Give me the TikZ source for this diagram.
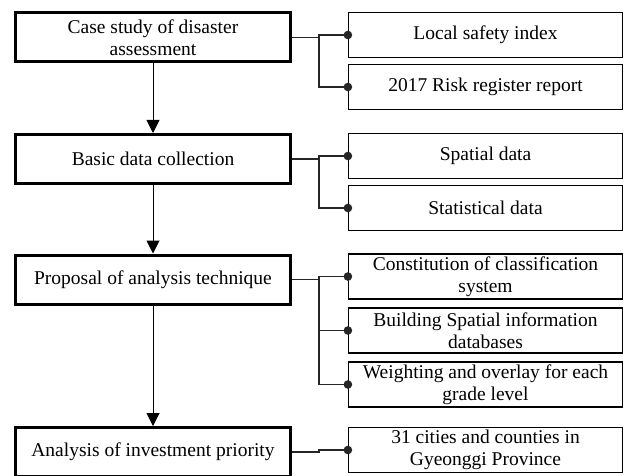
\documentclass[tikz,border=0pt]{standalone}
\usepackage{fontspec}
\setmainfont{Liberation Serif}
\usetikzlibrary{
  arrows.meta
}

\begin{document}
\begin{tikzpicture}[
  x=1pt,
  y=-1pt,
  stage/.style={draw,line width=3pt,minimum width=275pt,minimum height=49pt,
    inner sep=0pt,align=center,font=\fontsize{19.5}{22.5}\selectfont},
  item/.style={draw,line width=1.2pt,minimum width=274pt,minimum height=45pt,
    inner sep=0pt,align=center,font=\fontsize{19.5}{22}\selectfont},
  flow/.style={line width=1pt,-{Triangle[width=13pt,length=13pt]}},
  link/.style={line width=1.4pt,black!85,-{Circle[length=8.5pt]},shorten >=-4.25pt},
]
\clip (0,0) rectangle (626,476);
\useasboundingbox (0,0) rectangle (626,476);
\node[stage] (case) at (153,37.5) {Case study of disaster\\assessment};
\node[stage] (basic) at (153,159) {Basic data collection};
\node[stage] (proposal) at (153,279.5) {Proposal of analysis technique};
\node[stage] (priority) at (153,452) {Analysis of investment priority};
\node[item] (safety) at (485.5,35) {Local safety index};
\node[item] (risk) at (485.5,87) {2017 Risk register report};
\node[item] (spatial) at (485.5,156) {Spatial data};
\node[item] (statistical) at (485.5,208) {Statistical data};
\node[item] (classification) at (485.5,276.5) {Constitution of classification\\system};
\node[item] (databases) at (485.5,330.5) {Building Spatial information\\databases};
\node[item] (weighting) at (485.5,384.5) {Weighting and overlay for each\\grade level};
\node[item] (cities) at (485.5,450) {31 cities and counties in\\Gyeonggi Province};
\draw[flow] (case) -- (basic);
\draw[flow] (basic) -- (proposal);
\draw[flow] (proposal) -- (priority);
\draw[link] (case.east) -- ++(27,0) |- (safety.west);
\draw[link] (case.east) -- ++(27,0) |- (risk.west);
\draw[link] (basic.east) -- ++(27,0) |- (spatial.west);
\draw[link] (basic.east) -- ++(27,0) |- (statistical.west);
\draw[link] (proposal.east) -- ++(27,0) |- (classification.west);
\draw[link] (proposal.east) -- ++(27,0) |- (databases.west);
\draw[link] (proposal.east) -- ++(27,0) |- (weighting.west);
\draw[link] (priority.east) -- ++(27,0) |- (cities.west);
\end{tikzpicture}
\end{document}
